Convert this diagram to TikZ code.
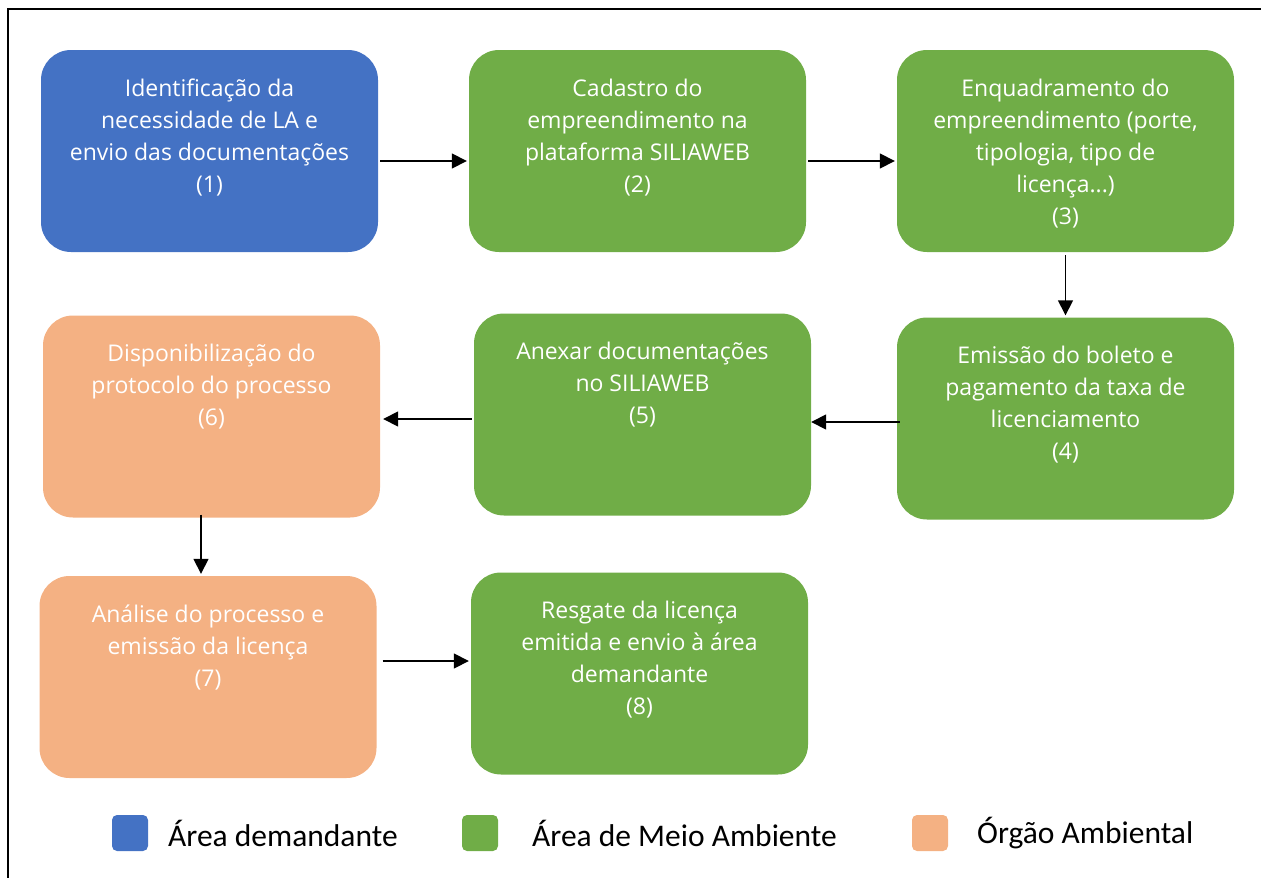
\documentclass[tikz,border=0pt]{standalone}
\usepackage{fontspec}
\setmainfont{Open Sans}
\newfontfamily\legfont{Carlito}
\usetikzlibrary{arrows.meta}
\definecolor{cblue}{HTML}{4472C4}
\definecolor{cgreen}{HTML}{70AD47}
\definecolor{corange}{HTML}{F4B183}
\tikzset{
  box/.style={draw=none, rounded corners=30pt, minimum width=337pt, minimum height=202pt, inner sep=0pt},
  boxtext/.style={anchor=north, text=white, align=center, inner sep=0pt, font=\fontsize{23}{32}\selectfont},
  arr/.style={line width=1.6pt, -{Triangle[length=15pt,width=15pt]}},
  legsq/.style={rounded corners=5pt, minimum size=36pt, inner sep=0pt},
  legtext/.style={anchor=west, inner sep=0pt, font=\legfont\fontsize{31.5}{33}\selectfont}
}
\begin{document}
\begin{tikzpicture}[x=1pt,y=-1pt]
\useasboundingbox (0,0) rectangle (1261,878);
\draw[line width=2pt] (8,9) rectangle (1275,895);

\node[box, fill=cblue]   (b1) at (209.5,151) {};
\node[box, fill=cgreen]  (b2) at (637.5,151) {};
\node[box, fill=cgreen]  (b3) at (1065.5,151) {};
\node[box, fill=cgreen]  (b4) at (1065.5,418.5) {};
\node[box, fill=cgreen]  (b5) at (642.5,414.5) {};
\node[box, fill=corange] (b6) at (211.5,416.5) {};
\node[box, fill=corange] (b7) at (208,677) {};
\node[box, fill=cgreen]  (b8) at (639.5,673.5) {};

\node[boxtext] (t1) at ([yshift=-29pt]b1.north) {Identificação da\\necessidade de LA e\\envio das documentações\\(1)};
\node[boxtext] (t2) at ([yshift=-29pt]b2.north) {Cadastro do\\empreendimento na\\plataforma SILIAWEB\\(2)};
\node[boxtext] (t3) at ([yshift=-29pt]b3.north) {Enquadramento do\\empreendimento (porte,\\tipologia, tipo de\\licença...)\\(3)};
\node[boxtext] (t4) at ([yshift=-29pt]b4.north) {Emissão do boleto e\\pagamento da taxa de\\licenciamento\\(4)};
\node[boxtext] (t5) at ([yshift=-29pt]b5.north) {Anexar documentações\\no SILIAWEB\\(5)};
\node[boxtext] (t6) at ([yshift=-29pt]b6.north) {Disponibilização do\\protocolo do processo\\(6)};
\node[boxtext] (t7) at ([yshift=-29pt]b7.north) {Análise do processo e\\emissão da licença\\(7)};
\node[boxtext] (t8) at ([yshift=-29pt]b8.north) {Resgate da licença\\emitida e envio à área\\demandante\\(8)};

\draw[arr] ([xshift=2pt,yshift=-10pt]b1.east) -- ([xshift=-2pt,yshift=-10pt]b2.west);
\draw[arr] ([xshift=2pt,yshift=-10pt]b2.east) -- ([xshift=-2pt,yshift=-10pt]b3.west);
\draw[arr] ([yshift=-3pt]b3.south) -- ([yshift=2pt]b3.south |- b4.north);
\draw[arr] ([xshift=3pt,yshift=-3.5pt]b4.west) -- ([yshift=-3.5pt]b4.west -| b5.east);
\draw[arr] ([xshift=-2pt,yshift=-4.5pt]b5.west) -- ([xshift=3pt,yshift=-4.5pt]b5.west -| b6.east);
\draw[arr] ([xshift=-10.5pt,yshift=3pt]b6.south) -- ([xshift=-10.5pt,yshift=2pt]b6.south |- b7.north);
\draw[arr] ([xshift=6pt,yshift=16pt]b7.east) -- ([xshift=-2pt,yshift=16pt]b7.east -| b8.west);

\node[legsq, fill=cblue]   (l1) at (130,833) {};
\node[legsq, fill=cgreen]  (l2) at (480,833) {};
\node[legsq, fill=corange] (l3) at (930,833) {};
\node[legtext] (lt1) at (168,833) {Área demandante};
\node[legtext] (lt2) at (532,833) {Área de Meio Ambiente};
\node[legtext] (lt3) at (977,833) {Órgão Ambiental};
\end{tikzpicture}
\end{document}
